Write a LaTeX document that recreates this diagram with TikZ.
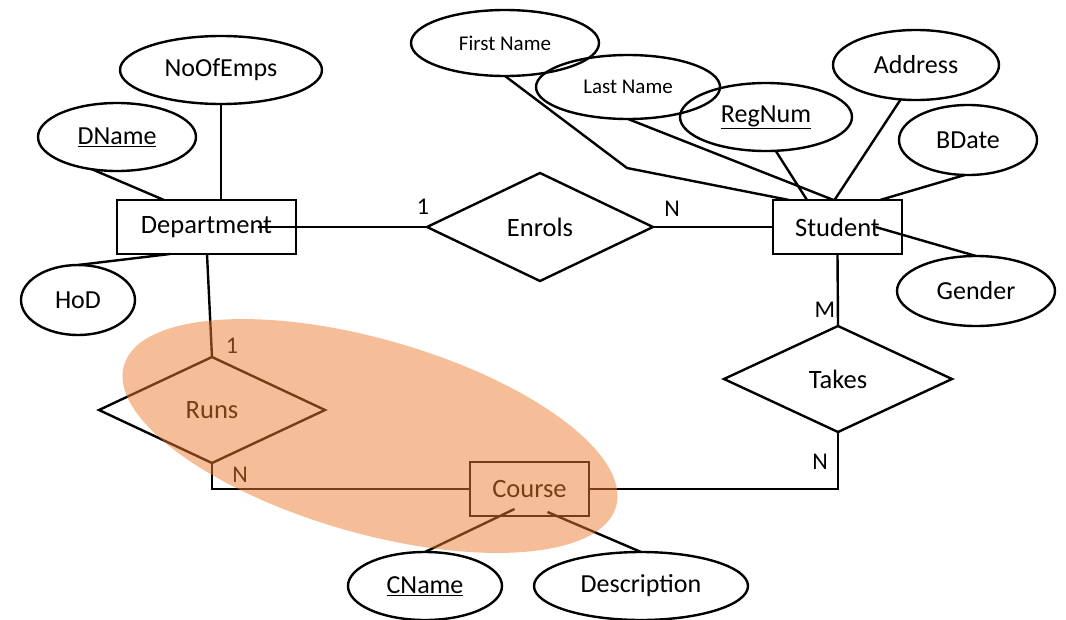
\documentclass[tikz,border=0pt]{standalone}
\usepackage{fontspec}
\setmainfont{Carlito}
\usetikzlibrary{shapes.geometric}
\definecolor{hl}{HTML}{ED7D31}
\begin{document}
\begin{tikzpicture}[x=1pt,y=-1pt, line width=2.4pt,
  ent/.style={draw, rectangle, inner sep=0pt, outer sep=0pt, font=\fontsize{26.5}{30}\selectfont},
  attr/.style={draw, ellipse, inner sep=0pt, outer sep=0pt, font=\fontsize{26}{30}\selectfont},
  attrs/.style={attr, font=\fontsize{21}{24}\selectfont},
  rel/.style={draw, diamond, inner sep=0pt, outer sep=0pt, font=\fontsize{26.5}{30}\selectfont},
  card/.style={inner sep=0pt, font=\fontsize{24}{28}\selectfont}]
\useasboundingbox (0,0) rectangle (1066,619);

% entities
\node[ent, minimum width=179pt, minimum height=54pt] (dept) at (206.5,227) {Department\hspace{8pt}};
\node[ent, minimum width=129pt, minimum height=54pt] (student) at (837.5,227) {Student\hspace{4pt}};
\node[ent, minimum width=119pt, minimum height=54pt] (course) at (529.5,489) {Course};

% relationships
\node[rel, minimum width=226pt, minimum height=108pt] (enrols) at (540,227) {Enrols};
\node[rel, minimum width=228pt, minimum height=106pt] (takes) at (838,379) {Takes};
\node[rel, minimum width=226pt, minimum height=106pt] (runs) at (212,410) {Runs};

% attributes
\node[attr, minimum width=202pt, minimum height=68pt] (noofemps) at (221,70) {NoOfEmps};
\node[attr, minimum width=158pt, minimum height=68pt] (dname) at (117,137) {\underline{DName}};
\node[attr, minimum width=114pt, minimum height=70pt] (hod) at (78,300) {HoD};
\node[attrs, minimum width=188pt, minimum height=66pt] (firstname) at (505,43) {First Name};
\node[attrs, minimum width=184pt, minimum height=64pt] (lastname) at (628,87) {Last Name};
\node[attr, minimum width=172pt, minimum height=68pt] (regnum) at (766,117) {\underline{RegNum}};
\node[attr, minimum width=166pt, minimum height=70pt] (address) at (916,65) {Address};
\node[attr, minimum width=138pt, minimum height=70pt] (bdate) at (968,140) {BDate};
\node[attr, minimum width=158pt, minimum height=70pt] (gender) at (976,291) {Gender};
\node[attr, minimum width=154pt, minimum height=68pt] (cname) at (425,586) {\underline{CName}};
\node[attr, minimum width=214pt, minimum height=68pt] (desc) at (641,586) {Description};

% cardinalities
\node[card] (c1) at (423,207) {1};
\node[card] (c2) at (672,209) {N};
\node[card] (c3) at (825,310) {M};
\node[card] (c4) at (820,462) {N};
\node[card] (c5) at (232,346) {1};
\node[card] (c6) at (240,475) {N};

\coordinate (fnbend) at (627,168);

% connectors
\draw (noofemps.south) -- (noofemps.south |- dept.north);
\draw (dname.232) -- ([xshift=47pt]dept.north west);
\draw (hod.north) -- ([xshift=53pt]dept.south west);
\draw ([xshift=51pt]dept.center) -- (enrols.west);
\draw ([xshift=0.5pt]dept.south) -- (runs.north);
\draw (enrols.east) -- (student.west);
\draw (firstname.south) -- (fnbend) -- ([xshift=16pt]student.north west);
\draw (lastname.south) -- ([xshift=-4pt]student.north);
\draw (regnum.286) -- ([xshift=34pt]student.north west);
\draw (address.246) -- ([xshift=-3pt]student.north);
\draw (bdate.265) -- ([xshift=107pt]student.north west);
\draw ([xshift=38pt]student.center) -- (gender.north);
\draw (student.south) -- (takes.north);
\draw (takes.south) -- (takes.south |- course.east) -- (course.east);
\draw (runs.south) -- (runs.south |- course.west) -- (course.west);
\draw ([xshift=-15pt,yshift=-20pt]course.center) -- (cname.north);
\draw ([xshift=18pt,yshift=-23pt]course.center) -- (desc.north);

% highlight
\begin{scope}[shift={(370,436)}, rotate=-16]
\fill[hl, fill opacity=0.5] (0,0) ellipse [x radius=256pt, y radius=97pt];
\end{scope}
\end{tikzpicture}
\end{document}
